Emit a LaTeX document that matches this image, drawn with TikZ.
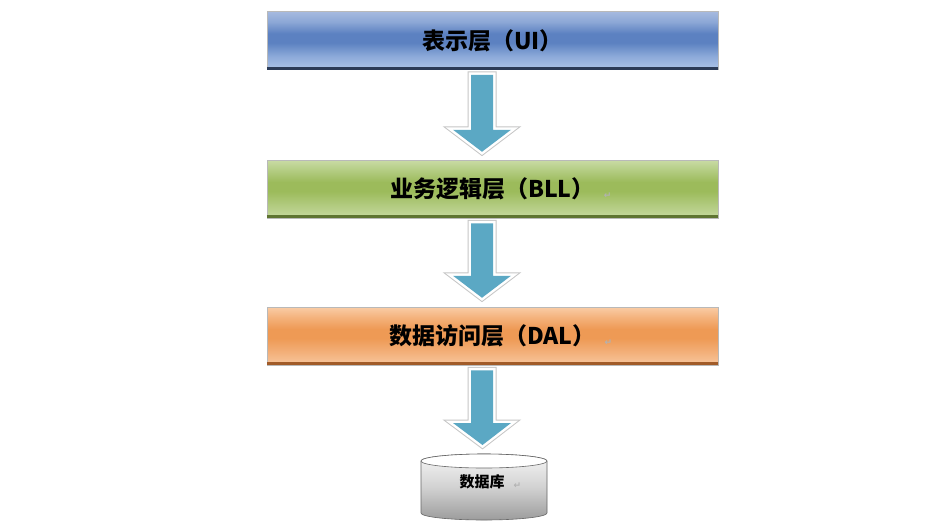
\documentclass[tikz,border=0pt]{standalone}
\usepackage{fontspec}
\setmainfont{Noto Sans CJK SC}
\newfontfamily\markfont{DejaVu Sans}
\usetikzlibrary{calc}
% colours
\definecolor{bluetop}{HTML}{A6BADF}
\definecolor{bluehi}{HTML}{8CA7D6}
\definecolor{bluemid}{HTML}{5C81C1}
\definecolor{bluelo}{HTML}{8EABDA}
\definecolor{bluebot}{HTML}{ADC4E8}
\definecolor{blueedge}{HTML}{2C3B57}
\definecolor{greentop}{HTML}{C9DBA5}
\definecolor{greenhi}{HTML}{B3CC82}
\definecolor{greenmid}{HTML}{9CBB5B}
\definecolor{greenlo}{HTML}{B2CB80}
\definecolor{greenbot}{HTML}{C6D9A0}
\definecolor{greenedge}{HTML}{5E7431}
\definecolor{orangetop}{HTML}{F9CCA6}
\definecolor{orangehi}{HTML}{F4B27C}
\definecolor{orangemid}{HTML}{EE9A55}
\definecolor{orangelo}{HTML}{F3B07A}
\definecolor{orangebot}{HTML}{F8C79E}
\definecolor{orangeedge}{HTML}{A15B28}
\definecolor{arrowblue}{HTML}{5BA8C4}
\definecolor{cylbot}{HTML}{9C9C9C}
\definecolor{cylmid}{HTML}{D2D2D2}
\definecolor{cyltop}{HTML}{F6F6F6}
\pgfdeclareverticalshading{blueshade}{100bp}{color(0bp)=(bluebot); color(25bp)=(bluebot); color(36bp)=(bluelo); color(48bp)=(bluemid); color(56bp)=(bluemid); color(66bp)=(bluehi); color(75bp)=(bluetop); color(100bp)=(bluetop)}
\pgfdeclareverticalshading{greenshade}{100bp}{color(0bp)=(greenbot); color(25bp)=(greenbot); color(36bp)=(greenlo); color(48bp)=(greenmid); color(56bp)=(greenmid); color(66bp)=(greenhi); color(75bp)=(greentop); color(100bp)=(greentop)}
\pgfdeclareverticalshading{orangeshade}{100bp}{color(0bp)=(orangebot); color(25bp)=(orangebot); color(36bp)=(orangelo); color(48bp)=(orangemid); color(56bp)=(orangemid); color(66bp)=(orangehi); color(75bp)=(orangetop); color(100bp)=(orangetop)}
\pgfdeclareverticalshading{cylshade}{100bp}{color(0bp)=(cylbot); color(25bp)=(cylbot); color(50bp)=(cylmid); color(75bp)=(cyltop); color(100bp)=(cyltop)}
\newcommand\retmark{\rlap{\hspace{9pt}\raisebox{-1pt}{\markfont\fontsize{9}{9}\selectfont\color{gray!60}↵}}}
\newcommand\layerarrow[2]{%
  \path[fill=arrowblue,
        preaction={draw=gray!45, line width=7pt, line join=miter},
        preaction={draw=white, line width=5pt, line join=miter}]
    let \p1=(#1), \p2=(#2) in
    (\x1-11,\y1) -- (\x1+11,\y1) -- (\x1+11,\y2+22) -- (\x1+29,\y2+22)
    -- (\x2,\y2) -- (\x1-29,\y2+22) -- (\x1-11,\y2+22) -- cycle;}
\tikzset{
  layerbox/.style={shade, minimum width=451pt, minimum height=58pt,
    inner sep=0pt, draw=gray!55, line width=0.5pt,
    font=\fontsize{23}{28}\selectfont\bfseries},
  dbtext/.style={font=\fontsize{15}{18}\selectfont\bfseries, inner sep=0pt}
}
\begin{document}
\begin{tikzpicture}[x=1pt,y=-1pt]
\fill[white] (0,0) rectangle (942,531);
\useasboundingbox (0,0) rectangle (942,531);

% layers
\node[layerbox, shading=blueshade] (ui) at (492.5,40.5) {表示层（UI）\hspace{12pt}};
\node[layerbox, shading=greenshade] (bll) at (492.5,189) {业务逻辑层（BLL）\retmark\hspace{12pt}};
\node[layerbox, shading=orangeshade] (dal) at (492.5,336) {数据访问层（DAL）\retmark\hspace{12pt}};
\foreach \b/\c in {ui/blueedge, bll/greenedge, dal/orangeedge}
  \draw[\c, line width=3pt] ([yshift=1.5pt]\b.south west) -- ([yshift=1.5pt]\b.south east);

% database cylinder
\path[shading=cylshade, draw=gray!80!black, line width=0.6pt]
  (421,461) -- (421,513) arc[start angle=180, end angle=0, x radius=63, y radius=7]
  -- (547,461) arc[start angle=0, end angle=-180, x radius=63, y radius=7] -- cycle;
\draw[fill=white, draw=gray!80!black, line width=0.6pt] (484,461) ellipse [x radius=63, y radius=7];
\node[dbtext] (db) at (482,482) {数据库\retmark};
\coordinate (dbtop) at (484,454);

% arrows (y axis points down: positive y offsets move down)
\coordinate (a1s) at ($(ui.south)+(-10.5,5)$);
\coordinate (a1e) at ($(bll.north)+(-10.5,-8)$);
\coordinate (a2s) at ($(bll.south)+(-10.5,5)$);
\coordinate (a2e) at ($(dal.north)+(-10.5,-9)$);
\coordinate (a3s) at ($(dal.south)+(-10.5,5)$);
\coordinate (a3e) at ($(dbtop)+(-1.5,-9)$);
\layerarrow{a1s}{a1e}
\layerarrow{a2s}{a2e}
\layerarrow{a3s}{a3e}
\end{tikzpicture}
\end{document}
